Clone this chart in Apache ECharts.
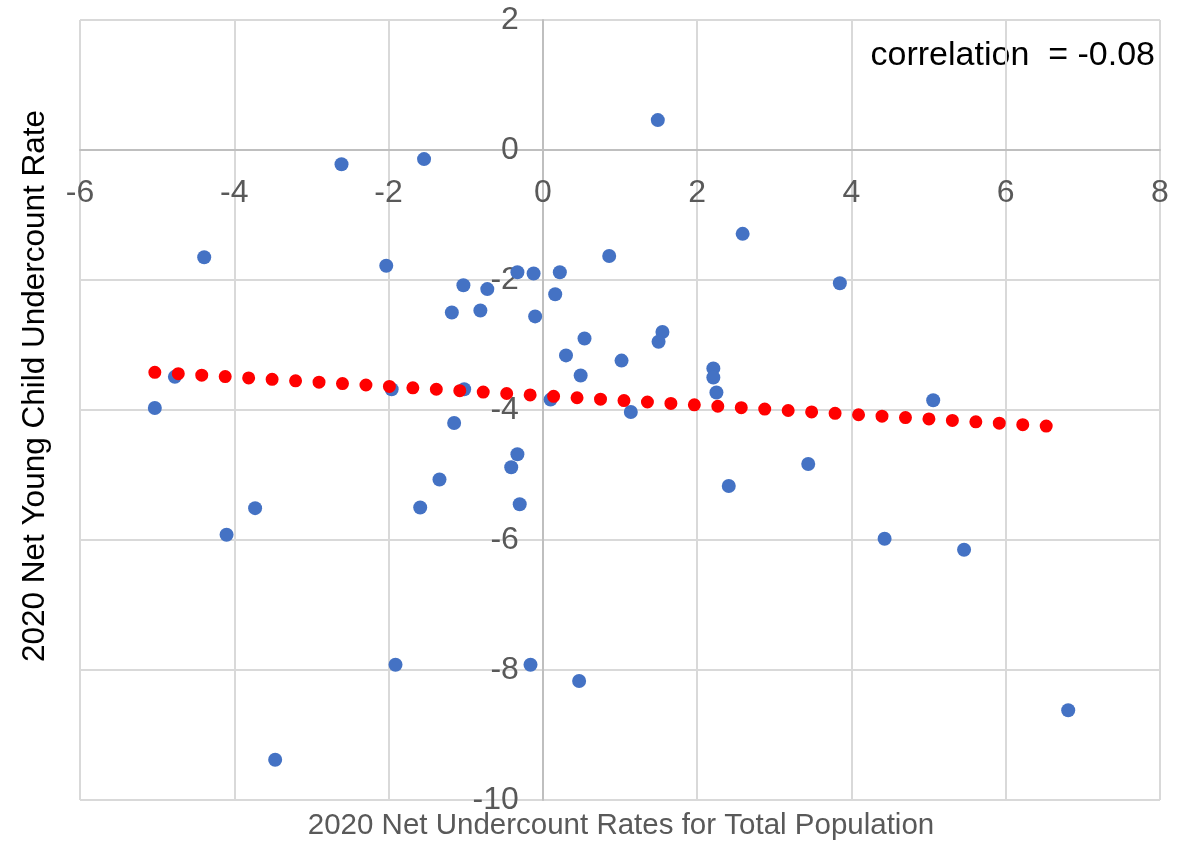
<!DOCTYPE html>
<html>
<head>
<meta charset="utf-8">
<script src="https://cdn.jsdelivr.net/npm/echarts@6/dist/echarts.min.js"></script>
<style>
  html, body { margin: 0; padding: 0; background: #fff; }
</style>
</head>
<body>
<div id="scatter" style="width: 1187px;height:844px;"></div>
<script>
// x: 2020 net undercount rate, total population
let xVals = [1.49, -2.61, -1.54, -4.39, 2.59, -2.03, 0.86, 3.85, -1.03, -0.33,
  -0.12, 0.22, -0.72, 0.16, -1.18, -0.81, -0.10, 0.54, 1.55, 1.50,
  0.30, 1.02, 0.49, 2.21, 2.21, 2.25, -4.77, -5.03, -1.96, -1.02,
  0.10, 1.14, -1.15, -0.33, -0.41, -1.34, -1.59, -0.30, -3.73, -4.10,
  -3.47, -1.91, -0.16, 0.47, 2.41, 3.44, 5.06, 4.43, 5.46, 6.81];
// y: 2020 net young child undercount rate
let yVals = [0.46, -0.22, -0.14, -1.65, -1.29, -1.78, -1.63, -2.05, -2.08, -1.88,
  -1.90, -1.88, -2.14, -2.22, -2.50, -2.47, -2.56, -2.90, -2.80, -2.95,
  -3.16, -3.24, -3.47, -3.36, -3.50, -3.73, -3.49, -3.97, -3.68, -3.68,
  -3.84, -4.03, -4.20, -4.68, -4.88, -5.07, -5.50, -5.45, -5.51, -5.92,
  -9.38, -7.92, -7.92, -8.17, -5.17, -4.83, -3.85, -5.98, -6.15, -8.62];
// trend line ends
let trendX = [-5.03, 6.57];
let trendY = [-3.42, -4.25];
let xRange = [-6, 8];
let yRange = [-10, 2];
let tickStep = 2;
let corrText = 'correlation  = -0.08';

let font = "'Liberation Sans', Arial, sans-serif";
let points = xVals.map((x, i) => [x, yVals[i]]);
let trend = trendX.map((x, i) => [x, trendY[i]]);

// plot box in pixels; axes cross at 0 so they are shifted in by offset
let gridBox = { left: 80, right: 27, top: 20, bottom: 44 };
let plotW = 1187 - gridBox.left - gridBox.right;
let plotH = 844 - gridBox.top - gridBox.bottom;
let xZeroShift = -plotH * (0 - yRange[0]) / (yRange[1] - yRange[0]);
let yZeroShift = -plotW * (0 - xRange[0]) / (xRange[1] - xRange[0]);

let myChart = echarts.init(document.getElementById('scatter'));
myChart.setOption({
  backgroundColor: '#ffffff',
  animation: false,
  grid: Object.assign({ containLabel: false, outerBoundsMode: 'none' }, gridBox),
  xAxis: {
    type: 'value',
    position: 'bottom',
    offset: xZeroShift,
    min: xRange[0],
    max: xRange[1],
    interval: tickStep,
    axisLine: { show: true, onZero: false, lineStyle: { color: '#bfbfbf', width: 2 } },
    axisTick: { show: false },
    axisLabel: { color: '#595959', fontSize: 32, fontFamily: font, margin: 27 },
    splitLine: { show: true, lineStyle: { color: '#d9d9d9', width: 2 } }
  },
  yAxis: {
    type: 'value',
    position: 'left',
    offset: yZeroShift,
    min: yRange[0],
    max: yRange[1],
    interval: tickStep,
    axisLine: { show: true, onZero: false, lineStyle: { color: '#bfbfbf', width: 2 } },
    axisTick: { show: false },
    axisLabel: { color: '#595959', fontSize: 32, fontFamily: font, margin: 24 },
    splitLine: { show: true, lineStyle: { color: '#d9d9d9', width: 2 } }
  },
  graphic: [
    {
      type: 'text', x: 621, y: 826,
      style: { text: '2020 Net Undercount Rates for Total Population', fill: '#595959', font: '29.5px ' + font,
        align: 'center', verticalAlign: 'middle' }
    },
    {
      type: 'text', x: 35, y: 386, rotation: Math.PI / 2,
      style: { text: '2020 Net Young Child Undercount Rate', fill: '#000000', font: '31.5px ' + font,
        align: 'center', verticalAlign: 'middle' }
    },
    {
      type: 'text', x: 1155, y: 56,
      style: { text: corrText, fill: '#000000', font: '34px ' + font, align: 'right', verticalAlign: 'middle' }
    }
  ],
  series: [
    {
      name: 'states',
      type: 'scatter',
      data: points,
      symbol: 'circle',
      symbolSize: 14,
      itemStyle: { color: '#4472c4', opacity: 1 }
    },
    {
      name: 'trend',
      type: 'line',
      data: trend,
      symbol: 'none',
      silent: true,
      lineStyle: { color: '#ff0000', width: 13, type: [0, 23.5], cap: 'round' }
    }
  ]
});
</script>
</body>
</html>
